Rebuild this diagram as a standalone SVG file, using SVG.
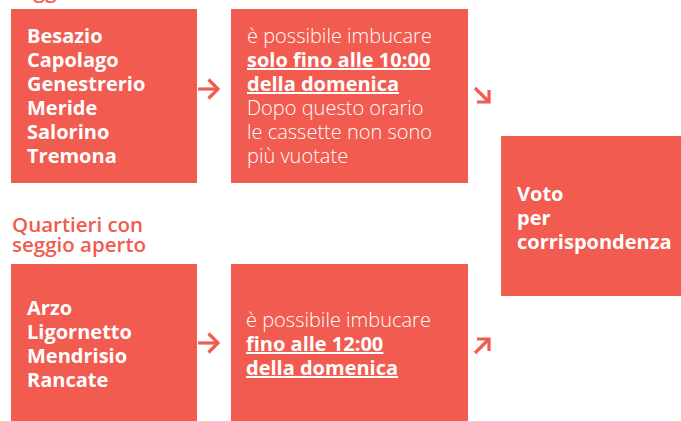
<svg xmlns="http://www.w3.org/2000/svg" width="681" height="421" viewBox="0 0 681 421">
<style>
.box{fill:#f15b50}
.b{font-family:"Open Sans","Noto Sans","Liberation Sans",sans-serif;font-weight:700;font-size:20px;fill:#fff}
.l{font-family:"Open Sans","Noto Sans","Liberation Sans",sans-serif;font-weight:300;font-size:20px;fill:#fff}
.h{font-family:"Open Sans","Noto Sans","Liberation Sans",sans-serif;font-weight:600;font-size:20.5px;fill:#f15b50}
.ul{text-decoration:underline}
.arr{stroke:#f15b50;stroke-width:3.2;fill:none;stroke-linejoin:miter}
</style>
<rect width="681" height="421" fill="#fff"/>
<g id="heading-top">
<text class="h" x="12" y="-2">seggio</text>
</g>
<g id="node-closed-list">
<rect class="box" x="11" y="9" width="186" height="174"/>
<text class="b" x="27" y="43">Besazio</text>
<text class="b" x="27" y="67">Capolago</text>
<text class="b" x="27" y="91">Genestrerio</text>
<text class="b" x="27" y="115">Meride</text>
<text class="b" x="27" y="139">Salorino</text>
<text class="b" x="27" y="163">Tremona</text>
</g>
<g id="node-closed-rule">
<rect class="box" x="231" y="9" width="237" height="174"/>
<text class="l" x="247" y="43">è possibile imbucare</text>
<text class="b ul" x="247" y="67">solo fino alle 10:00</text>
<text class="b ul" x="247" y="91">della domenica</text>
<text class="l" x="247" y="115">Dopo questo orario</text>
<text class="l" x="247" y="139">le cassette non sono</text>
<text class="l" x="247" y="163">più vuotate</text>
</g>
<g id="heading-open">
<text class="h" x="12" y="232">Quartieri con</text>
<text class="h" x="12" y="252">seggio aperto</text>
</g>
<g id="node-open-list">
<rect class="box" x="11" y="264" width="186" height="157"/>
<text class="b" x="27" y="315">Arzo</text>
<text class="b" x="27" y="339">Ligornetto</text>
<text class="b" x="27" y="363">Mendrisio</text>
<text class="b" x="27" y="387">Rancate</text>
</g>
<g id="node-open-rule">
<rect class="box" x="231" y="264" width="237" height="157"/>
<text class="l" x="246" y="327">è possibile imbucare</text>
<text class="b ul" x="246" y="351">fino alle 12:00</text>
<text class="b ul" x="246" y="375">della domenica</text>
</g>
<g id="node-vote">
<rect class="box" x="501" y="136" width="180" height="160"/>
<text class="b" x="517" y="201">Voto</text>
<text class="b" x="517" y="225">per</text>
<text class="b" x="517" y="249">corrispondenza</text>
</g>
<g id="connectors">
<line class="arr" x1="198" y1="89" x2="217" y2="89"/>
<polyline class="arr" points="208.5,79.5 218,89 208.5,98.5"/>
<line class="arr" x1="198" y1="343" x2="217" y2="343"/>
<polyline class="arr" points="208.5,333.5 218,343 208.5,352.5"/>
<line class="arr" x1="475" y1="88" x2="489" y2="102"/>
<polyline class="arr" points="489,90 489,102 477,102"/>
<line class="arr" x1="475" y1="353" x2="489" y2="339"/>
<polyline class="arr" points="477,339 489,339 489,351"/>
</g>
</svg>
